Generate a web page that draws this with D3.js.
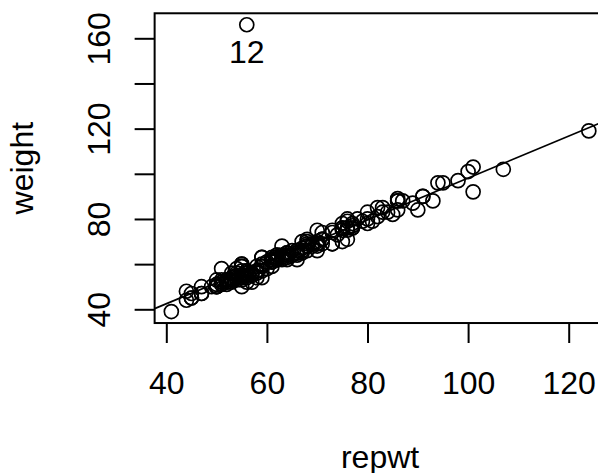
<!DOCTYPE html>
<html><head><meta charset="utf-8">
<script src="https://cdn.jsdelivr.net/npm/d3@7"></script>
<style>
html,body{margin:0;padding:0;background:#fff;}
svg{display:block;}
text{font-family:"Liberation Sans",Arial,Helvetica,sans-serif;fill:#000;}
</style></head>
<body>
<svg id="chart" width="598" height="473"></svg>
<script>
// Davis data: reported weight (repwt) and measured weight; null = missing
const repwt = [77,51,54,70,59,76,77,73,71,64, 75,56,52,64,57,66,101,62,75,61,
  124,61,66,70,59,50,61,60,41,100, 71,73,76,52,63,65,54,69,86,67,
  53,80,59,80,82,55,null,null,56,75, 85,57,73,107,null,64,65,74,70,58,
  69,71,76,75,98,59,63,62,51,76, 61,66,54,57,50,null,55,64,70,70,
  60,56,52,55,56,61,66,53,59,56, 68,56,86,71,87,57,101,50,52,null,
  55,63,47,45,63,51,51,55,64,55, 90,79,57,67,77,62,83,94,76,66,
  77,73,68,55,null,56,null,45,68,44, 61,89,53,47,84,53,62,null,91,83,
  68,53,55,55,66,55,55,55,67,86, 58,47,45,null,44,58,68,null,null,56,
  50,54,52,58,58,59,62,66,95,50, 75,null,61,null,64,68,null,67,82,68,
  78,null,null,59,70,56,55,54,75,49, 93,86,59,51,61,71,80,null,91,81];
const weight = [77,58,53,68,59,76,76,69,71,65, 70,166,51,64,52,65,92,62,76,61,
  119,61,65,66,54,50,63,58,39,101, 71,75,79,52,68,64,56,69,88,65,
  54,80,63,78,85,54,73,49,54,75, 82,56,74,102,64,65,66,73,75,57,
  68,71,71,78,97,60,64,64,52,80, 62,66,55,56,50,50,50,63,69,69,
  61,55,53,60,56,59,62,53,57,57, 70,56,84,69,88,56,103,50,52,55,
  55,63,47,45,62,53,52,57,64,59, 84,79,55,67,76,62,83,96,75,65,
  78,69,68,55,67,52,47,45,68,44, 62,87,56,50,83,53,64,62,90,85,
  66,52,53,54,64,55,55,59,70,88, 57,47,47,55,48,54,69,59,58,57,
  51,54,53,59,56,59,63,66,96,53, 76,54,61,82,62,71,60,66,81,68,
  80,43,82,63,70,56,60,58,76,50, 88,89,59,51,62,74,83,81,90,79];
const labelledIds = [12];
const xTicks = [40,60,80,100,120];
const yTicks = [40,60,80,100,120,140,160];
const yTickLabels = [40,80,120,160];
const xLabel = "repwt", yLabel = "weight";

const pts = repwt.map((r,i)=>({id:i+1, x:r, y:weight[i]})).filter(d=>d.x!==null && d.y!==null);

// least squares fit weight ~ repwt
const mx = d3.mean(pts,d=>d.x), my = d3.mean(pts,d=>d.y);
const b = d3.sum(pts,d=>(d.x-mx)*(d.y-my))/d3.sum(pts,d=>(d.x-mx)**2);
const a = my - b*mx;

// R-style 4% domain padding
function pad(ext){const r=ext[1]-ext[0];return [ext[0]-0.04*r, ext[1]+0.04*r];}
const xDom = pad(d3.extent(pts,d=>d.x));
const yDom = pad(d3.extent(pts,d=>d.y));

const x0 = d3.scaleLinear().domain([40,120]).range([166.3,568.7]);
const y0 = d3.scaleLinear().domain([40,160]).range([309.3,38.3]);
const x = d3.scaleLinear().domain(xDom).range([x0(xDom[0]), x0(xDom[1])]);
const y = d3.scaleLinear().domain(yDom).range([y0(yDom[0]), y0(yDom[1])]);

const svg = d3.select("#chart");
const L = x.range()[0], R = x.range()[1], B = y.range()[0], T = y.range()[1];

svg.append("defs").append("clipPath").attr("id","clip")
  .append("rect").attr("x",L).attr("y",T).attr("width",R-L).attr("height",B-T);

// axes
const xAxis = d3.axisBottom(x).tickValues(xTicks).tickSize(20).tickPadding(10).tickFormat(d3.format("d"));
const gx = svg.append("g").attr("transform",`translate(0,${B})`).call(xAxis);
gx.select(".domain").remove();
gx.selectAll(".tick line").attr("stroke","#000").attr("stroke-width",2);
gx.selectAll(".tick text").attr("font-size",32).attr("dy",null).attr("y",70.5)
  .attr("font-family",'"Liberation Sans",Arial,sans-serif');

const yAxis = d3.axisLeft(y).tickValues(yTicks).tickSize(20).tickFormat(d=>yTickLabels.includes(d)?d:"");
const gy = svg.append("g").attr("transform",`translate(${L},0)`).call(yAxis);
gy.select(".domain").remove();
gy.selectAll(".tick line").attr("stroke","#000").attr("stroke-width",2);
gy.selectAll(".tick text").attr("font-size",32).attr("x",null).attr("dy",null)
  .attr("text-anchor","middle").attr("transform","translate(-44.5,0) rotate(-90)")
  .attr("font-family",'"Liberation Sans",Arial,sans-serif');

// regression line
svg.append("line").attr("clip-path","url(#clip)")
  .attr("x1",x(xDom[0])).attr("y1",y(a+b*xDom[0]))
  .attr("x2",x(xDom[1])).attr("y2",y(a+b*xDom[1]))
  .attr("stroke","#000").attr("stroke-width",1.7);

// points
svg.append("g").attr("clip-path","url(#clip)").selectAll("circle").data(pts).join("circle")
  .attr("cx",d=>x(d.x)).attr("cy",d=>y(d.y)).attr("r",7)
  .attr("fill","none").attr("stroke","#000").attr("stroke-width",1.7);

// point labels
svg.append("g").selectAll("text").data(pts.filter(d=>labelledIds.includes(d.id))).join("text")
  .attr("x",d=>x(d.x)).attr("y",d=>y(d.y)+38.5).attr("text-anchor","middle")
  .attr("font-size",32).text(d=>d.id);

// box
svg.append("rect").attr("x",L).attr("y",T).attr("width",R-L).attr("height",B-T)
  .attr("fill","none").attr("stroke","#000").attr("stroke-width",2);

// axis titles
svg.append("text").attr("x",(L+R)/2).attr("y",467.5).attr("text-anchor","middle")
  .attr("font-size",32).text(xLabel);
svg.append("text").attr("transform",`translate(32.7,${(T+B)/2}) rotate(-90)`)
  .attr("text-anchor","middle").attr("font-size",32).text(yLabel);
</script>
</body></html>
